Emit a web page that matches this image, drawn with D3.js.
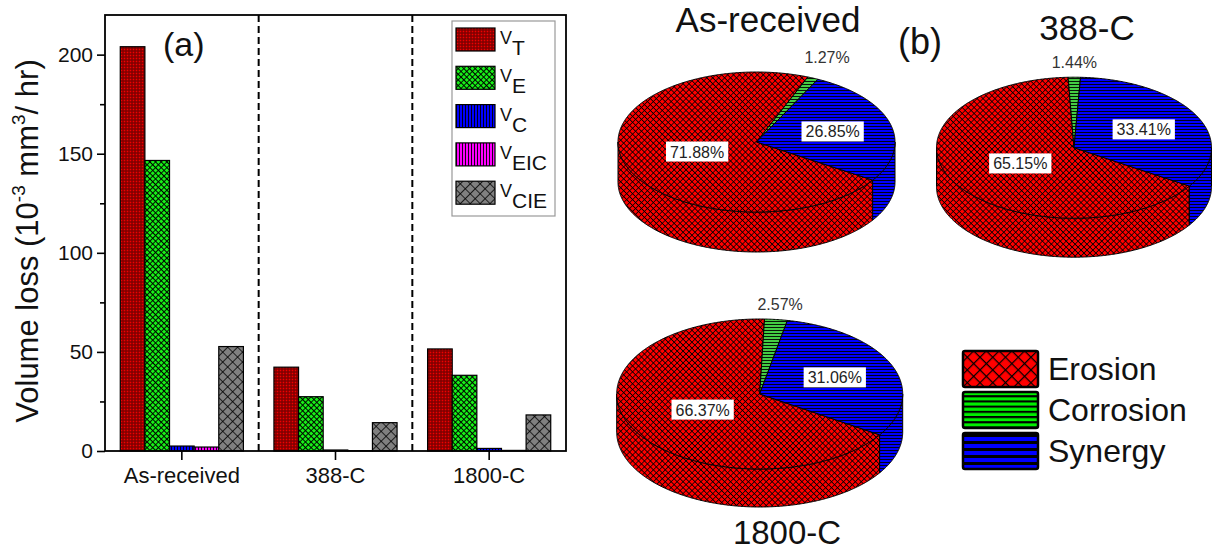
<!DOCTYPE html>
<html><head><meta charset="utf-8">
<script src="https://cdn.jsdelivr.net/npm/d3@7"></script>
<style>body{margin:0;background:#fff;} svg{display:block;font-family:"Liberation Sans",Arial,sans-serif;}</style>
</head><body><svg id="c" width="1213" height="551"></svg>
<script>
// ---------- data ----------
const groups = ["As-received", "388-C", "1800-C"];
const seriesKeys = ["T", "E", "C", "EIC", "CIE"];
const VT = [204, 42.3, 51.5];
const VE = [146.6, 27.4, 38.2];
const VC = [2.5, 0.5, 1.3];
const VEIC = [2.0, 0.2, 0.3];
const VCIE = [52.7, 14.3, 18.2];
const yTicks = [0, 50, 100, 150, 200];
const yMinorTicks = [25, 75, 125, 175];
const pieNames = ["As-received", "388-C", "1800-C"];
const erosionPct = [71.88, 65.15, 66.37];
const corrosionPct = [1.27, 1.44, 2.57];
const synergyPct = [26.85, 33.41, 31.06];
const pieLegend = ["Erosion", "Corrosion", "Synergy"];

const seriesValues = [VT, VE, VC, VEIC, VCIE];

const svg = d3.select("#c");
const defs = svg.append("defs");

// ---------- patterns ----------
function pattern(id, w, h, bg, rot) {
  const p = defs.append("pattern").attr("id", id).attr("patternUnits", "userSpaceOnUse")
    .attr("width", w).attr("height", h);
  if (rot) p.attr("patternTransform", "rotate(" + rot + ")");
  p.append("rect").attr("width", w).attr("height", h).attr("fill", bg);
  return p;
}
{ const p = pattern("pT", 3, 3, "#7a0000");
  p.append("rect").attr("x", 0.7).attr("y", 0.7).attr("width", 1.6).attr("height", 1.6).attr("fill", "#f00000"); }
{ const p = pattern("pE", 4, 4, "#18f018", 45);
  p.append("path").attr("d", "M0,0H4M0,0V4").attr("stroke", "#000").attr("stroke-width", 1.8); }
{ const p = pattern("pC", 3, 3, "#0000ff");
  p.append("path").attr("d", "M0.5,0V3").attr("stroke", "#000").attr("stroke-width", 0.9); }
{ const p = pattern("pEIC", 3, 3, "#ff00ff");
  p.append("path").attr("d", "M0.5,0V3").attr("stroke", "#000").attr("stroke-width", 0.9); }
{ const p = pattern("pCIE", 7, 7, "#808080", 45);
  p.append("path").attr("d", "M0,0H7M0,0V7").attr("stroke", "#000").attr("stroke-width", 1.6); }
{ const p = pattern("qEro", 4.2, 4.2, "#ff0000", 45);
  p.append("path").attr("d", "M0,0H4.2M0,0V4.2").attr("stroke", "#000").attr("stroke-width", 1.5); }
{ const p = pattern("qCor", 3, 3, "#44cc44");
  p.append("path").attr("d", "M0,0.5H3").attr("stroke", "#000").attr("stroke-width", 0.9); }
{ const p = pattern("qSyn", 3, 3, "#0000ff");
  p.append("path").attr("d", "M0,0.5H3").attr("stroke", "#000").attr("stroke-width", 0.9); }
{ const p = pattern("lEro", 9, 9, "#ff0000", 45);
  p.append("path").attr("d", "M0,0H9M0,0V9").attr("stroke", "#000").attr("stroke-width", 2.4); }
{ const p = pattern("lCor", 5.2, 5.2, "#00ee00");
  p.append("path").attr("d", "M0,1H5.2").attr("stroke", "#000").attr("stroke-width", 2.2); }
{ const p = pattern("lSyn", 7, 7, "#0000ff");
  p.append("path").attr("d", "M0,1.5H7").attr("stroke", "#000").attr("stroke-width", 3); }

const barFills = ["url(#pT)", "url(#pE)", "url(#pC)", "url(#pEIC)", "url(#pCIE)"];
const pieFills = ["url(#qEro)", "url(#qCor)", "url(#qSyn)"];
const pieLegFills = ["url(#lEro)", "url(#lCor)", "url(#lSyn)"];

// ---------- (a) bar chart ----------
const L = 105, R = 566, T = 15, B = 451;
const x = d3.scaleBand().domain(groups).range([L, R]).padding(0);
const xs = d3.scaleBand().domain(seriesKeys).range([0, x.bandwidth()]).paddingInner(0).paddingOuter(0.62);
const y = d3.scaleLinear().domain([0, 220]).range([B, T]);

svg.append("g").selectAll("line").data(groups.slice(1)).join("line")
  .attr("x1", d => x(d)).attr("x2", d => x(d)).attr("y1", T).attr("y2", B)
  .attr("stroke", "#000").attr("stroke-width", 2).attr("stroke-dasharray", "7,4");

const barG = svg.append("g");
groups.forEach((g, gi) => {
  seriesKeys.forEach((k, si) => {
    const v = seriesValues[si][gi];
    barG.append("rect")
      .attr("x", x(g) + xs(k)).attr("width", xs.bandwidth())
      .attr("y", y(v)).attr("height", B - y(v))
      .attr("fill", barFills[si]).attr("stroke", "#000").attr("stroke-width", 1.2);
  });
});

const yAx = svg.append("g").attr("transform", `translate(${L},0)`)
  .call(d3.axisLeft(y).tickValues(yTicks).tickSize(8).tickPadding(4));
yAx.select(".domain").remove();
yAx.selectAll("text").attr("font-size", 21).attr("font-family", "Liberation Sans, Arial").attr("fill", "#111");
yAx.selectAll("line").attr("stroke-width", 1.6);
const yAx2 = svg.append("g").attr("transform", `translate(${L},0)`)
  .call(d3.axisLeft(y).tickValues(yMinorTicks).tickSize(5).tickFormat(""));
yAx2.select(".domain").remove();
yAx2.selectAll("line").attr("stroke-width", 1.6);

const xAx = svg.append("g").attr("transform", `translate(0,${B})`)
  .call(d3.axisBottom(x).tickSize(9).tickPadding(7));
xAx.select(".domain").remove();
xAx.selectAll("text").attr("font-size", 22).attr("font-family", "Liberation Sans, Arial").attr("fill", "#111");
xAx.selectAll("line").attr("stroke-width", 1.6);

svg.append("rect").attr("x", L).attr("y", T).attr("width", R - L).attr("height", B - T)
  .attr("fill", "none").attr("stroke", "#000").attr("stroke-width", 1.8);

const yt = svg.append("text").attr("transform", "translate(38,241) rotate(-90)")
  .attr("text-anchor", "middle").attr("font-size", 31).attr("fill", "#111");
yt.append("tspan").text("Volume loss (10");
yt.append("tspan").attr("font-size", 19).attr("dy", -13).text("-3");
yt.append("tspan").attr("dy", 13).text(" mm");
yt.append("tspan").attr("font-size", 19).attr("dy", -13).text("3");
yt.append("tspan").attr("dy", 13).text("/ hr)");

svg.append("text").attr("x", 163).attr("y", 56).attr("font-size", 34).attr("fill", "#111").text("(a)");

const lg = svg.append("g");
lg.append("rect").attr("x", 452).attr("y", 21).attr("width", 103).attr("height", 195)
  .attr("fill", "#fff").attr("stroke", "#999").attr("stroke-width", 1.2);
seriesKeys.forEach((k, i) => {
  const yy = 28 + i * 38.3;
  lg.append("rect").attr("x", 456).attr("y", yy).attr("width", 39).attr("height", 23)
    .attr("fill", barFills[i]).attr("stroke", "#000").attr("stroke-width", 1.2);
  const t = lg.append("text").attr("x", 500).attr("y", yy + 16).attr("font-size", 18).attr("fill", "#111");
  t.append("tspan").text("V");
  t.append("tspan").attr("font-size", 21).attr("dy", 11).text(k);
});

// ---------- (b) pies ----------
const pieLayout = [
  {cx: 756.5, cy: 142, rx: 138.5, ry: 70, depth: 40, tx: 768, ty: 32},
  {cx: 1074, cy: 147.7, rx: 137.5, ry: 70.5, depth: 39, tx: 1087, ty: 40},
  {cx: 759.7, cy: 394, rx: 143, ry: 75, depth: 38, tx: 787, ty: 544}
];
const startA = 123 * Math.PI / 180;
const lineGen = d3.line();

pieNames.forEach((name, i) => {
  const P = pieLayout[i];
  const data = [
    {name: pieLegend[0], v: erosionPct[i], fill: pieFills[0]},
    {name: pieLegend[1], v: corrosionPct[i], fill: pieFills[1]},
    {name: pieLegend[2], v: synergyPct[i], fill: pieFills[2]}
  ];
  const arcs = d3.pie().value(d => d.v).sort(null).startAngle(startA).endAngle(startA + 2 * Math.PI)(data);
  const pt = (t, dy) => [P.cx + P.rx * Math.sin(t), P.cy - P.ry * Math.cos(t) + (dy || 0)];
  const arcPts = (a, b, dy) => {
    const n = Math.max(2, Math.ceil(Math.abs(b - a) / 0.01));
    return d3.range(n + 1).map(j => pt(a + (b - a) * j / n, dy));
  };
  const g = svg.append("g");
  arcs.forEach(a => {
    for (let k = -1; k <= 2; k++) {
      const lo = Math.max(a.startAngle, Math.PI / 2 + 2 * Math.PI * k);
      const hi = Math.min(a.endAngle, 3 * Math.PI / 2 + 2 * Math.PI * k);
      if (hi > lo) {
        const pts = arcPts(lo, hi, 0).concat(arcPts(hi, lo, P.depth));
        g.append("path").attr("d", lineGen(pts) + "Z").attr("fill", a.data.fill)
          .attr("stroke", "#000").attr("stroke-width", 1);
      }
    }
  });
  arcs.forEach(a => {
    const pts = [[P.cx, P.cy]].concat(arcPts(a.startAngle, a.endAngle, 0));
    g.append("path").attr("d", lineGen(pts) + "Z").attr("fill", a.data.fill)
      .attr("stroke", "#000").attr("stroke-width", 1);
  });
  const fr = [0.45, 0, 0.57];
  arcs.forEach((a, j) => {
    const mid = (a.startAngle + a.endAngle) / 2;
    const txt = a.data.v.toFixed(2) + "%";
    if (j === 1) {
      g.append("text").attr("x", P.cx + P.rx * 1.25 * Math.sin(mid)).attr("y", P.cy - P.ry - 9)
        .attr("text-anchor", "middle").attr("font-size", 16).attr("fill", "#333").text(txt);
    } else {
      const lx = P.cx + P.rx * fr[j] * Math.sin(mid);
      const ly = P.cy - P.ry * fr[j] * Math.cos(mid);
      const t = g.append("text").attr("x", lx).attr("y", ly + 6).attr("text-anchor", "middle")
        .attr("font-size", 16).attr("fill", "#222").text(txt);
      const w = t.node().getComputedTextLength();
      g.insert("rect", "text").attr("x", lx - w / 2 - 4).attr("y", ly - 10).attr("width", w + 8).attr("height", 20)
        .attr("fill", "#fff");
    }
  });
  svg.append("text").attr("x", P.tx).attr("y", P.ty).attr("text-anchor", "middle")
    .attr("font-size", i === 2 ? 33 : 35).attr("fill", "#111").text(name);
});

svg.append("text").attr("x", 898).attr("y", 54).attr("font-size", 36).attr("fill", "#111").text("(b)");

pieLegend.forEach((n, i) => {
  const yy = 351 + i * 41;
  svg.append("rect").attr("x", 963).attr("y", yy).attr("width", 75).attr("height", 36)
    .attr("rx", 2).attr("fill", pieLegFills[i]).attr("stroke", "#000").attr("stroke-width", 2.5);
  svg.append("text").attr("x", 1048).attr("y", yy + 29).attr("font-size", 32).attr("fill", "#111").text(n);
});
</script></body></html>
